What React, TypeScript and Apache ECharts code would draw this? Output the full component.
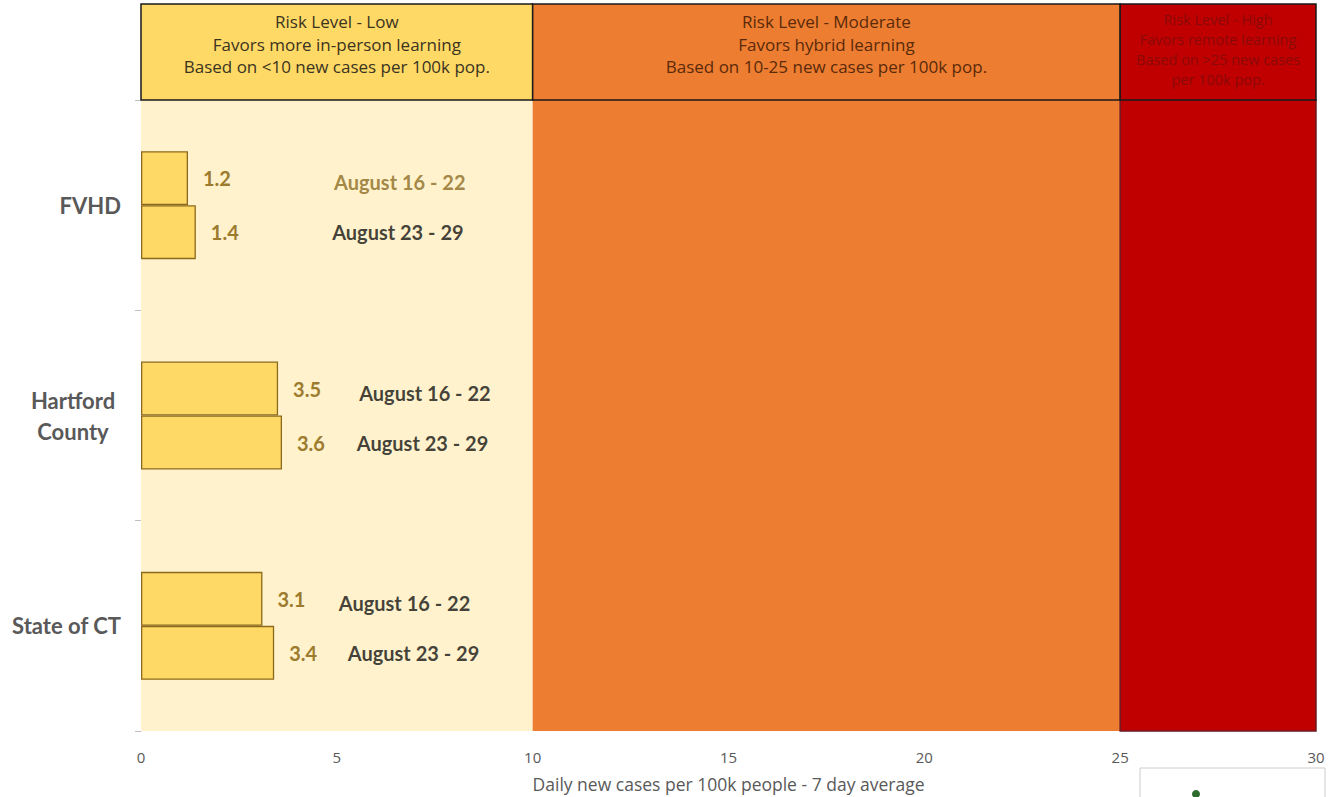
import React, { useEffect, useRef } from "react";
import * as echarts from "echarts";

const categories = ["FVHD", "Hartford\nCounty", "State of CT"];
const weekNames = ["August 16 - 22", "August 23 - 29"];
const week1Values = [1.2, 3.5, 3.1];
const week2Values = [1.4, 3.6, 3.4];
const week1LabelX = [4.93, 5.57, 5.05];
const week2LabelX = [4.88, 5.51, 5.28];
const xMin = 0;
const xMax = 30;
const xInterval = 5;
const zoneStarts = [0, 10, 25];
const zoneEnds = [10, 25, 30];
const zoneTitles = [
  "Risk Level - Low\nFavors more in-person learning\nBased on <10 new cases per 100k pop.",
  "Risk Level - Moderate\nFavors hybrid learning\nBased on 10-25 new cases per 100k pop.",
  "Risk Level - High\nFavors remote learning\nBased on >25 new cases\nper 100k pop.",
];
const axisName = "Daily new cases per 100k people - 7 day average";

const FONT = "Lato, 'Open Sans', sans-serif";
const WIDE = "'Open Sans', Lato, sans-serif";
const zoneFill = ["#FFF2CC", "#ED7D31", "#C00000"];
const headerFill = ["#FFD966", "#ED7D31", "#C00000"];
const headerText = ["#3a3320", "#5a2a0a", "#8a0a0a"];

export default function App() {
  const ref = useRef<HTMLDivElement>(null);
  useEffect(() => {
    document.body.style.margin = "0";
    const chart = echarts.init(ref.current!, null, { renderer: "svg" });
    const barBase = {
      type: "bar" as const,
      xAxisIndex: 0,
      yAxisIndex: 0,
      barWidth: 54,
      barGap: "0%",
      z: 3,
      itemStyle: { color: "#FFD966", borderColor: "#8C6A1C", borderWidth: 1.3 },
      label: {
        show: true,
        position: "right" as const,
        distance: 15,
        fontFamily: FONT,
        fontSize: 20,
        fontWeight: "bold" as const,
        color: "#9C7B2E",
      },
    };
    const dateSeries = (xs: number[], name: string, offsetY: number, colors: string[]) => ({
      type: "scatter" as const,
      xAxisIndex: 0,
      yAxisIndex: 0,
      symbolSize: 0,
      z: 4,
      silent: true,
      data: xs.map((x, i) => ({
        value: [x, categories[i]],
        label: { color: colors[i] },
      })),
      label: {
        show: true,
        position: "right" as const,
        distance: 0,
        offset: [0, offsetY],
        formatter: () => name,
        fontFamily: FONT,
        fontSize: 20,
        fontWeight: "bold" as const,
      },
    });
    const catLabelStyle = {
      color: "#595959",
      fontFamily: FONT,
      fontSize: 22,
      fontWeight: "bold" as const,
    };
    chart.setOption({
      animation: false,
      backgroundColor: "#ffffff",
      grid: [
        { left: 141, right: 15, top: 100, bottom: 66, outerBoundsMode: "none", containLabel: false },
        { left: 141, right: 15, top: 4, height: 96, outerBoundsMode: "none", containLabel: false },
      ],
      xAxis: [
        {
          type: "value",
          gridIndex: 0,
          min: xMin,
          max: xMax,
          interval: xInterval,
          splitLine: { show: false },
          axisLine: { show: false },
          axisTick: { show: false },
          axisLabel: { color: "#595959", fontFamily: WIDE, fontSize: 15, margin: 18 },
          name: axisName,
          nameLocation: "middle",
          nameGap: 44,
          nameTextStyle: { color: "#595959", fontFamily: WIDE, fontSize: 17.5 },
        },
        {
          type: "value",
          gridIndex: 1,
          min: xMin,
          max: xMax,
          show: false,
        },
      ],
      yAxis: [
        {
          type: "category",
          gridIndex: 0,
          data: categories,
          inverse: true,
          axisLine: { show: true, lineStyle: { color: "#D9D9D9" } },
          axisTick: { show: true, length: 6, lineStyle: { color: "#BFBFBF" } },
          axisLabel: {
            ...catLabelStyle,
            margin: 20,
            lineHeight: 31,
            formatter: (v: string) =>
              v.includes("\n")
                ? v
                    .split("\n")
                    .map((s) => `{c|${s}}`)
                    .join("\n")
                : v,
            rich: {
              c: { ...catLabelStyle, width: 96, align: "center", lineHeight: 31 },
            },
          },
          splitLine: { show: false },
        },
        {
          type: "value",
          gridIndex: 1,
          min: 0,
          max: 1,
          show: false,
        },
      ],
      series: [
        {
          type: "bar",
          xAxisIndex: 0,
          yAxisIndex: 0,
          data: [],
          z: 1,
          silent: true,
          markArea: {
            silent: true,
            data: zoneStarts.map((s, i) => [
              {
                xAxis: s,
                itemStyle: {
                  color: zoneFill[i],
                  borderColor: i === 2 ? "#6b1a22" : "transparent",
                  borderWidth: i === 2 ? 1.5 : 0,
                },
              },
              { xAxis: zoneEnds[i] },
            ]),
          },
        },
        {
          type: "bar",
          xAxisIndex: 1,
          yAxisIndex: 1,
          data: [],
          z: 1,
          silent: true,
          markArea: {
            silent: true,
            data: zoneStarts.map((s, i) => [
              {
                xAxis: s,
                itemStyle: { color: headerFill[i], borderColor: "#1a1a1a", borderWidth: 1.5 },
                label: {
                  show: true,
                  position: "insideTop",
                  distance: i === 2 ? 6 : 7,
                  formatter: zoneTitles[i],
                  color: headerText[i],
                  fontFamily: WIDE,
                  fontSize: i === 2 ? 14.5 : 17,
                  lineHeight: i === 2 ? 20 : 22.5,
                  align: "center",
                },
              },
              { xAxis: zoneEnds[i] },
            ]),
          },
        },
        { ...barBase, name: weekNames[0], data: week1Values },
        { ...barBase, name: weekNames[1], data: week2Values },
        dateSeries(week1LabelX, weekNames[0], -23, ["#8B6B22", "#111111", "#111111"]),
        dateSeries(week2LabelX, weekNames[1], 27, ["#111111", "#111111", "#111111"]),
      ],
      graphic: [
        {
          type: "rect",
          shape: { x: 1140, y: 768, width: 185, height: 40 },
          style: { fill: "#ffffff", stroke: "#cccccc", lineWidth: 1 },
          z: 10,
        },
        {
          type: "circle",
          shape: { cx: 1196, cy: 794, r: 4 },
          style: { fill: "#2e6b2e" },
          z: 11,
        },
      ],
    });
    return () => chart.dispose();
  }, []);
  return (
    <div
      ref={ref}
      style={{ position: "absolute", left: 0, top: 0, width: 1331, height: 797 }}
    />
  );
}
